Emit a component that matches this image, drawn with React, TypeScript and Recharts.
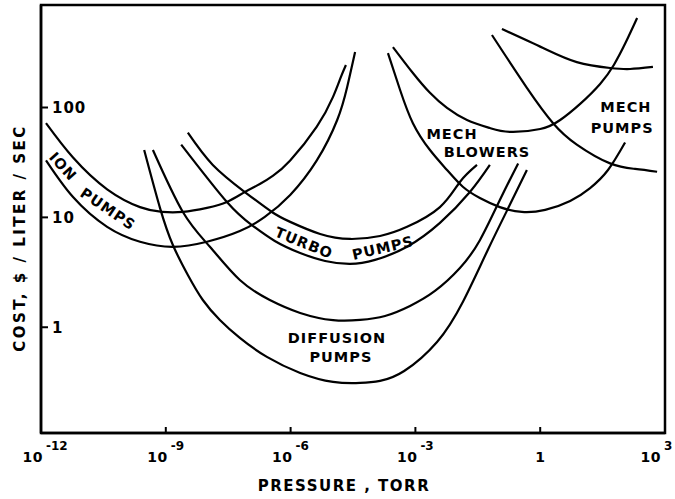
import React from 'react';
import { LineChart, Line, XAxis, YAxis, ReferenceArea, ReferenceDot } from 'recharts';

const FONT = '"DejaVu Sans", Verdana, sans-serif';
const INK = '#000';

// Axis ranges (pressure in Torr, cost in $ per liter/sec)
const X_MIN = 1e-12;
const X_MAX = 1e3;
const Y_MIN = 0.109;
const Y_MAX = 857;
const xTicks = [1e-12, 1e-9, 1e-6, 1e-3, 1, 1e3];
const yTicks = [1, 10, 100];
const yTickLabels = ['1', '10', '100'];

// Each curve: log10(pressure, Torr) and cost ($ / liter / sec)
const ionUpperLogP = [-11.88, -11.23, -10.41, -9.62, -9.09, -8.59, -8.01, -7.53, -7.1, -6.74, -6.42, -6.01, -5.37, -4.98, -4.79, -4.67];
const ionUpperCost = [72, 35, 18, 12.4, 11.2, 11.2, 12.2, 13.8, 17, 20.1, 24, 33, 67, 125, 190, 244];

const ionLowerLogP = [-11.88, -11.23, -10.41, -9.62, -8.83, -8.01, -7.22, -6.62, -6.01, -5.37, -4.88, -4.64, -4.45];
const ionLowerCost = [33, 15.3, 8.2, 6.0, 5.4, 6.0, 7.5, 10.1, 16, 33, 77, 154, 320];

const diffLowerLogP = [-9.52, -9.14, -8.83, -8.47, -8.11, -7.7, -7.22, -6.57, -5.77, -4.98, -4.33, -3.85, -3.27, -2.48, -1.86, -1.26, -0.73, -0.32];
const diffLowerCost = [41, 12.2, 5.6, 2.99, 1.77, 1.165, 0.8, 0.537, 0.384, 0.318, 0.311, 0.325, 0.4, 0.735, 1.7, 5.05, 13, 27];

const diffUpperLogP = [-9.31, -8.59, -7.94, -7.22, -6.5, -5.77, -4.98, -4.33, -3.73, -3.13, -2.53, -1.93, -1.45, -0.97, -0.53];
const diffUpperCost = [41, 11.2, 5.4, 2.69, 1.77, 1.35, 1.16, 1.165, 1.267, 1.563, 2.14, 3.46, 6.2, 14.4, 31];

const turboLowerLogP = [-8.63, -7.53, -6.93, -6.38, -5.77, -5.17, -4.57, -3.97, -3.2, -2.41, -1.69, -1.21];
const turboLowerCost = [46, 13.8, 8.5, 6.1, 4.74, 4.01, 3.77, 4.1, 5.4, 8.9, 17, 30];

const turboUpperLogP = [-8.47, -7.87, -7.1, -6.45, -6.01, -5.29, -4.57, -3.85, -3.2, -2.41, -1.93, -1.52];
const turboUpperCost = [59, 30, 17, 11.2, 9.1, 7.06, 6.36, 6.77, 8.2, 12.4, 21, 30];

const blowerLowerLogP = [-3.66, -3.37, -3.06, -2.65, -2.24, -1.86, -1.45, -0.97, -0.44, 0.12, 0.72, 1.2, 1.63, 2.04];
const blowerLowerCost = [313, 145, 72, 41, 27, 19, 15, 12.4, 11.2, 11.7, 14.1, 18.5, 27, 48];

const blowerUpperLogP = [-3.54, -3.06, -2.65, -2.24, -1.76, -1.21, -0.73, 0.0, 0.48, 0.96, 1.44, 1.77, 2.06, 2.33];
const blowerUpperCost = [355, 206, 136, 99, 77, 65, 60, 63.7, 77, 108, 164, 244, 394, 652];

const mechUpperLogP = [-0.92, 0.07, 0.88, 1.68, 2.16, 2.71];
const mechUpperCost = [518, 348, 259, 229, 224, 234];

const mechLowerLogP = [-1.16, -0.32, 0.31, 0.88, 1.68, 2.28, 2.81];
const mechLowerCost = [457, 151, 72, 46, 31, 27.6, 26];

// In-plot labels: text, log10(pressure), cost, rotation (deg)
const labelTexts = ['ION', 'PUMPS', 'TURBO', 'PUMPS', 'DIFFUSION', 'PUMPS', 'MECH', 'BLOWERS', 'MECH', 'PUMPS'];
const labelLogP = [-11.47, -10.39, -5.68, -3.78, -4.885, -4.79, -2.12, -1.28, 2.06, 1.97];
const labelCost = [29, 11.9, 5.85, 5.27, 0.8, 0.537, 57.4, 39.4, 101, 65];
const labelAngle = [48, 34, 22, -13, 0, 0, 0, 0, 0, 0];

const build = (logP: number[], cost: number[]) =>
  logP.map((e, i) => ({ p: Math.pow(10, e), c: cost[i] }));

const series = [
  build(ionUpperLogP, ionUpperCost),
  build(ionLowerLogP, ionLowerCost),
  build(diffLowerLogP, diffLowerCost),
  build(diffUpperLogP, diffUpperCost),
  build(turboLowerLogP, turboLowerCost),
  build(turboUpperLogP, turboUpperCost),
  build(blowerLowerLogP, blowerLowerCost),
  build(blowerUpperLogP, blowerUpperCost),
  build(mechUpperLogP, mechUpperCost),
  build(mechLowerLogP, mechLowerCost),
];

const textStyle = { fontFamily: FONT, fontWeight: 700, fill: INK } as const;

const XTick = (props: any) => {
  const { x, y, payload } = props;
  const e = Math.round(Math.log10(payload.value));
  const shift = e === 3 ? -6 : 0;
  return (
    <g>
      <line x1={x} x2={x} y1={y} y2={y - 6} stroke={INK} strokeWidth={2} />
      {e === 0 ? (
        <text x={x} y={y + 29} textAnchor="middle" fontSize={14} {...textStyle}>1</text>
      ) : (
        <g>
          <text x={x + 2 + shift} y={y + 29} textAnchor="end" fontSize={14} letterSpacing={0.5} {...textStyle}>10</text>
          <text x={x + 5 + shift} y={y + 17} textAnchor="start" fontSize={12} {...textStyle}>{String(e)}</text>
        </g>
      )}
    </g>
  );
};

const YTick = (props: any) => {
  const { x, y, payload } = props;
  const i = yTicks.indexOf(payload.value);
  return (
    <g>
      <line x1={x} x2={x + 7} y1={y} y2={y} stroke={INK} strokeWidth={2} />
      <text x={x + 11} y={y} dy="0.36em" textAnchor="start" fontSize={15} letterSpacing={1} {...textStyle}>
        {i >= 0 ? yTickLabels[i] : String(payload.value)}
      </text>
    </g>
  );
};

const XTitle = (props: any) => {
  const vb = props.viewBox || { x: 41, y: 433, width: 624, height: 66 };
  const cx = vb.x + vb.width / 2 - 9;
  return (
    <text x={cx} y={vb.y + 53} textAnchor="middle" dominantBaseline="central" fontSize={15} letterSpacing={1.5} {...textStyle}>
      PRESSURE , TORR
    </text>
  );
};

const YTitle = (props: any) => {
  const vb = props.viewBox || { x: 0, y: 5, width: 41, height: 428 };
  const cx = 20;
  const cy = vb.y + vb.height / 2 + 19;
  return (
    <text x={cx} y={cy} textAnchor="middle" dominantBaseline="central" transform={`rotate(-90 ${cx} ${cy})`} fontSize={15} letterSpacing={2.5} {...textStyle}>
      COST, $ / LITER / SEC
    </text>
  );
};

const makeLabel = (text: string, angle: number) => (props: any) => {
  const { cx, cy } = props;
  return (
    <text x={cx} y={cy} textAnchor="middle" dominantBaseline="central" transform={`rotate(${angle} ${cx} ${cy})`} fontSize={14.5} letterSpacing={1} {...textStyle}>
      {text}
    </text>
  );
};

export default function App() {
  return (
    <div style={{ position: 'absolute', left: 0, top: 0, width: 675, height: 499, background: '#fff' }}>
      <LineChart width={675} height={499} margin={{ top: 5, right: 10, bottom: 0, left: 0 }}>
        <XAxis
          type="number"
          dataKey="p"
          scale="log"
          domain={[X_MIN, X_MAX]}
          ticks={xTicks}
          interval={0}
          allowDataOverflow
          height={66}
          tickSize={0}
          tickMargin={0}
          tickLine={false}
          axisLine={{ stroke: INK, strokeWidth: 2.5 }}
          tick={<XTick />}
          label={XTitle}
        />
        <YAxis
          type="number"
          dataKey="c"
          scale="log"
          domain={[Y_MIN, Y_MAX]}
          ticks={yTicks}
          interval={0}
          allowDataOverflow
          width={41}
          tickSize={0}
          tickMargin={0}
          tickLine={false}
          axisLine={{ stroke: INK, strokeWidth: 2.5 }}
          tick={<YTick />}
          label={YTitle}
        />
        <ReferenceArea x1={X_MIN} x2={X_MAX} y1={Y_MIN} y2={Y_MAX} fill="none" fillOpacity={0} stroke={INK} strokeWidth={2.5} />
        {series.map((d, i) => (
          <Line
            key={i}
            data={d}
            dataKey="c"
            type="natural"
            stroke={INK}
            strokeWidth={2.2}
            dot={false}
            activeDot={false}
            isAnimationActive={false}
          />
        ))}
        {labelTexts.map((t, i) => (
          <ReferenceDot
            key={'lab' + i}
            x={Math.pow(10, labelLogP[i])}
            y={labelCost[i]}
            r={0}
            shape={makeLabel(t, labelAngle[i])}
          />
        ))}
      </LineChart>
    </div>
  );
}
